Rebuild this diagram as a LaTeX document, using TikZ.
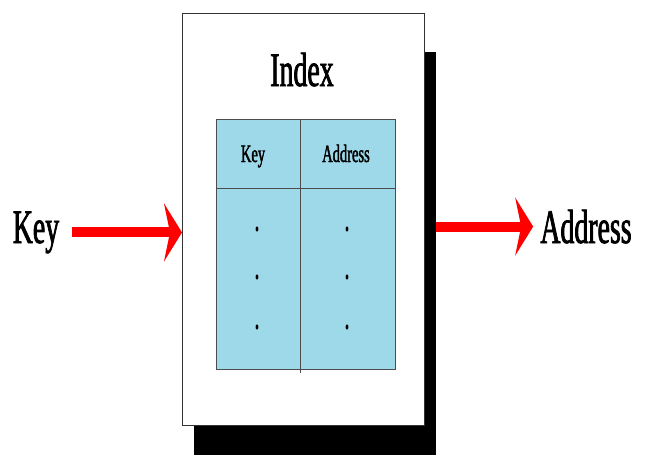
\documentclass[tikz,border=0pt]{standalone}
\usepackage{fontspec}
\usetikzlibrary{arrows.meta}
\newfontfamily\condfont{Liberation Serif}[FakeStretch=0.58,FakeBold=1.5]
\definecolor{cellblue}{RGB}{157,217,233}
\begin{document}
\begin{tikzpicture}[x=1pt,y=-1pt,
        bigtext/.style={font=\condfont\fontsize{48}{50}\selectfont, inner sep=3pt},
        celltext/.style={font=\condfont\fontsize{25}{27}\selectfont, inner sep=2pt},
        redarrow/.style={draw=red, line width=10pt, -{Stealth[length=18pt,width=58pt,inset=6pt]}},
        cellline/.style={draw=black!70, line width=0.8pt}]
                \useasboundingbox (0,0) rectangle (649,455);
                % shadow and card
                \node [fill=black, minimum width=242pt, minimum height=410pt, anchor=north west, inner sep=0pt] (shadow) at (194,52) {};
                \node [draw=black!80, line width=0.8pt, fill=white, minimum width=242pt, minimum height=412pt, anchor=north west, inner sep=0pt] (card) at (182,13) {};
                \draw (302,86) node[bigtext, anchor=base] (index) {Index};
                % table
                \fill [color=cellblue] (216,119) rectangle (395,369);
                \draw [cellline] (216,119) rectangle (395,369);
                \draw [cellline] (216,188)--(395,188);
                \draw [cellline] (300,119)--(300,373);
                \draw (253,162) node[celltext, anchor=base] (keyhead) {Key};
                \draw (346,162) node[celltext, anchor=base] (addrhead) {Address};
                \foreach \y in {229,277,327} {
                    \fill (257,\y) ellipse (1.4 and 2.6);
                    \fill (347,\y) ellipse (1.4 and 2.6);
                }
                % key in, address out
                \draw (36,243) node[bigtext, anchor=base] (key) {Key};
                \draw (586,243) node[bigtext, anchor=base] (address) {Address};
                \draw [redarrow, shorten <=10pt] (key.east) -- (key.east -| card.west);
                \draw [redarrow, shorten >=4pt] (shadow.east |- address.west) -- (address.west);
            \end{tikzpicture}
\end{document}
